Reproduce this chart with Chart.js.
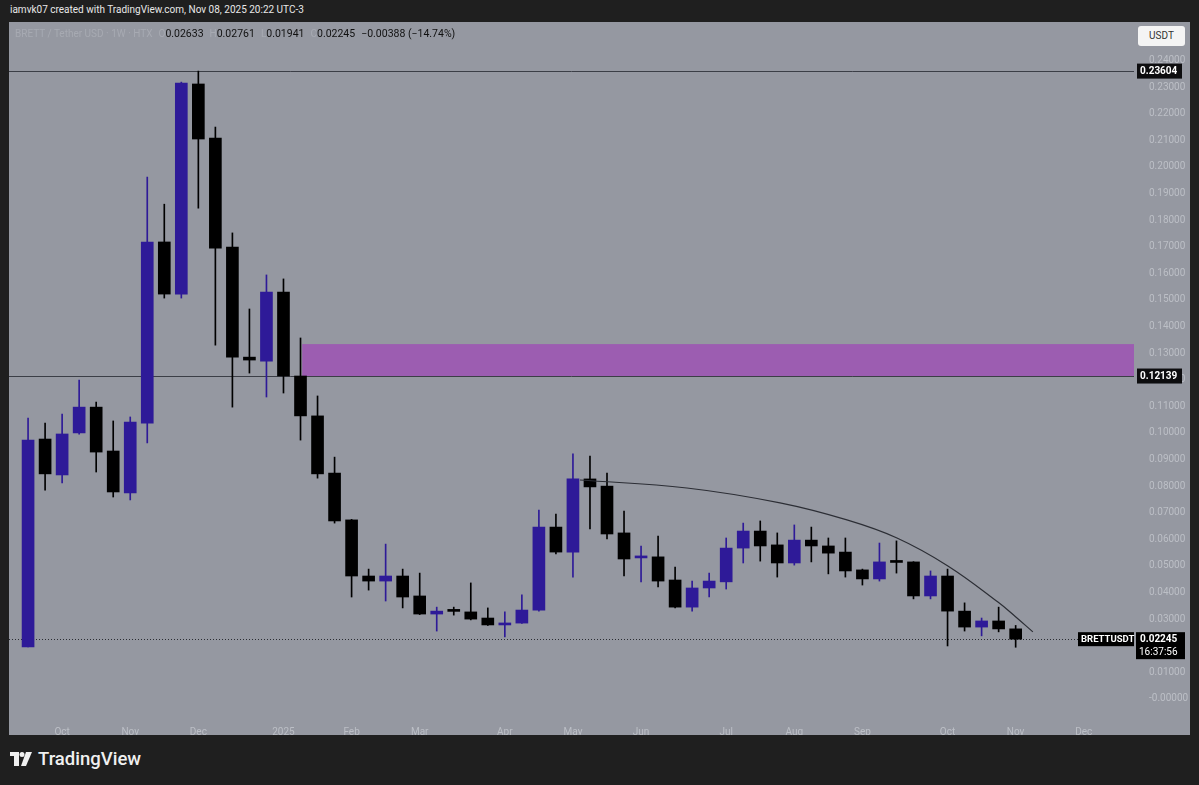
<!DOCTYPE html>
<html>
<head>
<meta charset="utf-8">
<script src="https://cdn.jsdelivr.net/npm/chart.js@4.4.1/dist/chart.umd.min.js"></script>
<style>
  html,body{margin:0;padding:0;background:#1f1f1f;width:1199px;height:785px;overflow:hidden;font-family:Roboto,"Noto Sans",sans-serif}
  #hdr{position:absolute;left:10px;top:4px;color:#e8e8e8;font-size:10px}
  #pane{position:absolute;left:9px;top:22px;width:1181px;height:713px;background:#9598a1}
  #legend{position:absolute;left:15px;top:27px;font-size:10px;color:#a7aab2;white-space:nowrap}
  #legend b{font-weight:normal;color:#111;font-size:10.5px}
  #legend i{font-style:normal;margin-left:6px}
  #usdt{position:absolute;left:1138px;top:26px;width:47px;height:20px;background:#f4f4f4;border-radius:3px;color:#333;font-size:10px;text-align:center;line-height:20px}
  #brand{position:absolute;left:10px;top:748px;color:#f0f0f0;font-size:18.5px;font-weight:500;display:flex;align-items:center;gap:6px}
</style>
</head>
<body>
<div id="hdr">iamvk07 created with TradingView.com, Nov 08, 2025 20:22 UTC-3</div>
<div id="pane"><canvas id="c" width="1181" height="713"></canvas></div>
<div id="legend">BRETT / Tether USD · 1W · HTX<i>O</i><b>0.02633</b><i>H</i><b>0.02761</b><i>L</i><b>0.01941</b><i>C</i><b>0.02245</b><i></i><b>−0.00388 (−14.74%)</b></div>
<div id="usdt">USDT</div>
<div id="brand"><svg width="22" height="14" viewBox="0 0 22 14"><rect x="0" y="0" width="9" height="4" fill="#f0f0f0"/><rect x="4" y="0" width="5" height="14" fill="#f0f0f0"/><circle cx="12" cy="2.5" r="2.5" fill="#f0f0f0"/><polygon points="16,0 22,0 16,14 11,14" fill="#f0f0f0"/></svg>TradingView</div>
<script>
// weekly candles, Sep 23 2024 .. Nov 3 2025 (index 0..58)
const opens  = [0.0195,0.0977,0.0842,0.1000,0.1097,0.0932,0.0774,0.1037,0.1718,0.1522,0.2312,0.2109,0.1699,0.1285,0.1270,0.1530,0.1214,0.1064,0.0849,0.0673,0.0462,0.0443,0.0462,0.0387,0.0319,0.0331,0.0327,0.0304,0.0278,0.0285,0.0334,0.0646,0.0552,0.0827,0.0800,0.0624,0.0530,0.0534,0.0447,0.0345,0.0417,0.0440,0.0567,0.0631,0.0579,0.0511,0.0597,0.0575,0.0552,0.0485,0.0451,0.0515,0.0515,0.0387,0.0462,0.0330,0.0270,0.0293,0.02633];
const highs  = [0.1056,0.1037,0.1071,0.1199,0.1116,0.1045,0.1060,0.1962,0.1860,0.2319,0.23604,0.2150,0.1752,0.1466,0.1594,0.1579,0.1357,0.1139,0.0909,0.0675,0.0488,0.0582,0.0488,0.0473,0.0345,0.0345,0.0436,0.0342,0.0327,0.0391,0.0710,0.0695,0.0921,0.0913,0.0849,0.0706,0.0575,0.0612,0.0496,0.0443,0.0473,0.0605,0.0661,0.0669,0.0624,0.0654,0.0646,0.0605,0.0605,0.0488,0.0586,0.0594,0.0516,0.0481,0.0488,0.0361,0.0304,0.0345,0.02761];
const lows   = [0.0195,0.0785,0.0812,0.0995,0.0853,0.0759,0.0748,0.0962,0.1507,0.1507,0.1845,0.1330,0.1097,0.1225,0.1135,0.1150,0.0973,0.0830,0.0661,0.0383,0.0409,0.0368,0.0342,0.0317,0.0255,0.0315,0.0297,0.0276,0.0233,0.0284,0.0330,0.0545,0.0458,0.0639,0.0601,0.0462,0.0440,0.0421,0.0342,0.0330,0.0383,0.0413,0.0511,0.0518,0.0458,0.0503,0.0515,0.0470,0.0458,0.0428,0.0443,0.0473,0.0376,0.0376,0.0199,0.0255,0.0237,0.0252,0.01941];
const closes = [0.0973,0.0846,0.0996,0.1097,0.0928,0.0778,0.1041,0.1718,0.1522,0.2315,0.2105,0.1695,0.1285,0.1274,0.1530,0.1214,0.1064,0.0846,0.0669,0.0462,0.0443,0.0462,0.0383,0.0319,0.0330,0.0329,0.0300,0.0278,0.0285,0.0334,0.0646,0.0552,0.0827,0.0797,0.0620,0.0526,0.0534,0.0443,0.0345,0.0417,0.0443,0.0567,0.0631,0.0575,0.0511,0.0597,0.0575,0.0548,0.0481,0.0451,0.0515,0.0513,0.0387,0.0462,0.0330,0.0270,0.0293,0.0263,0.02245];

// time axis: bar index of first week of each month
const monthIdx  = [2,6,10,15,19,23,28,32,36,41,45,49,54,58,62];
const monthText = ['Oct','Nov','Dec','2025','Feb','Mar','Apr','May','Jun','Jul','Aug','Sep','Oct','Nov','Dec'];

// price axis ticks
const priceTicks = [0.24,0.23,0.22,0.21,0.20,0.19,0.18,0.17,0.16,0.15,0.14,0.13,0.12,0.11,0.10,0.09,0.08,0.07,0.06,0.05,0.04,0.03,0.02,0.01,0];

// drawings
const levels   = [0.23604, 0.12139];
const zoneFrom = 16.1, zoneLow = 0.12139, zoneHigh = 0.1334;
const arcIdx = [32.41,38.69,44.16,48.09,51.03,54.02,56.96,58.01,59.01];
const arcVal = [0.0823,0.0793,0.0737,0.0673,0.0605,0.0500,0.0364,0.0308,0.0252];
const lastPrice = 0.02245, lastTime = '16:37:56', symbol = 'BRETTUSDT';

const UP = '#2e1a98', DOWN = '#000000';
const cols = opens.map((o,i) => closes[i] >= o ? UP : DOWN);

const overlay = {
  id:'overlay',
  beforeDatasetsDraw(ch){
    const {ctx, chartArea:a, scales:{x,y}} = ch;
    ctx.save();
    // supply zone
    ctx.fillStyle = '#9c5db1';
    const zx = x.getPixelForValue(zoneFrom), zt = y.getPixelForValue(zoneHigh), zb = y.getPixelForValue(zoneLow);
    ctx.fillRect(zx, zt, a.right - zx, zb - zt);
    // horizontal levels
    ctx.strokeStyle = '#3b3e46'; ctx.lineWidth = 1;
    levels.forEach(v => { const py = Math.round(y.getPixelForValue(v)) + .5; ctx.beginPath(); ctx.moveTo(a.left, py); ctx.lineTo(a.right, py); ctx.stroke(); });
    // last price dotted line
    const lp = Math.round(y.getPixelForValue(lastPrice)) + .5;
    ctx.setLineDash([1,2]); ctx.strokeStyle = '#2b2d33';
    ctx.beginPath(); ctx.moveTo(a.left, lp); ctx.lineTo(1069, lp); ctx.stroke();
    ctx.restore();
  },
  afterDraw(ch){
    const {ctx, chartArea:a, scales:{y}} = ch;
    ctx.save();
    ctx.font = 'bold 10px Roboto, sans-serif'; ctx.textBaseline = 'middle';
    const box = (txt, v) => { const py = y.getPixelForValue(v); ctx.fillStyle = '#0d0d0f'; ctx.fillRect(a.right + 3, py - 7.5, 45, 15); ctx.fillStyle = '#fff'; ctx.textAlign = 'left'; ctx.fillText(txt, a.right + 6, py + .5); };
    levels.forEach(v => box(v.toFixed(5), v));
    const py = y.getPixelForValue(lastPrice);
    ctx.fillStyle = '#000'; ctx.fillRect(a.right + 2, py - 7, 49, 27);
    ctx.fillRect(1069, py - 7, 56, 14);
    ctx.fillStyle = '#fff'; ctx.textAlign = 'left';
    ctx.fillText(lastPrice.toFixed(5), a.right + 6, py);
    ctx.font = '10px Roboto, sans-serif';
    ctx.fillText(lastTime, a.right + 5, py + 13);
    ctx.font = 'bold 9.5px Roboto, sans-serif';
    ctx.fillText(symbol, 1072, py + .5);
    ctx.restore();
  }
};

const noPad = s => { s.paddingTop = 0; s.paddingBottom = 0; s.paddingLeft = 0; s.paddingRight = 0; };

new Chart(document.getElementById('c'), {
  data:{ datasets:[
    { type:'bar', data: opens.map((o,i) => ({x:i, y:[lows[i], highs[i]]})), backgroundColor: cols, barThickness:1, grouped:false, order:3 },
    { type:'bar', data: opens.map((o,i) => ({x:i, y:[o, closes[i]]})), backgroundColor: cols, barThickness:12, minBarLength:2, grouped:false, order:2 },
    { type:'line', data: arcIdx.map((v,i) => ({x:v, y:arcVal[i]})), borderColor:'#2c2e35', borderWidth:1.2, pointRadius:0, tension:0.4, order:1 }
  ]},
  options:{
    responsive:false, animation:false, events:[],
    layout:{ padding:0 },
    plugins:{ legend:{display:false}, tooltip:{enabled:false} },
    scales:{
      x:{ type:'linear', offset:false, min:-1.12, max:64.95, grid:{display:false}, border:{display:false},
          afterBuildTicks: s => { s.ticks = monthIdx.map(v => ({value:v})); },
          afterFit: s => { s.height = 23; noPad(s); },
          ticks:{ autoSkip:false, maxRotation:0, padding:6, color:'#bcbfc6', font:{size:10, family:'Roboto'}, callback:(v,i) => monthText[i] } },
      y:{ position:'right', min:-0.00493, max:0.2545, grid:{display:false}, border:{display:false},
          afterBuildTicks: s => { s.ticks = priceTicks.map(v => ({value:v})); },
          afterFit: s => { s.width = 56; noPad(s); },
          ticks:{ padding:7, crossAlign:'near', color:'#bcbfc6', font:{size:10, family:'Roboto'}, callback: v => Math.abs(v) < 1e-9 ? '-0.00000' : v.toFixed(5) } }
    }
  },
  plugins:[overlay]
});
</script>
</body>
</html>
